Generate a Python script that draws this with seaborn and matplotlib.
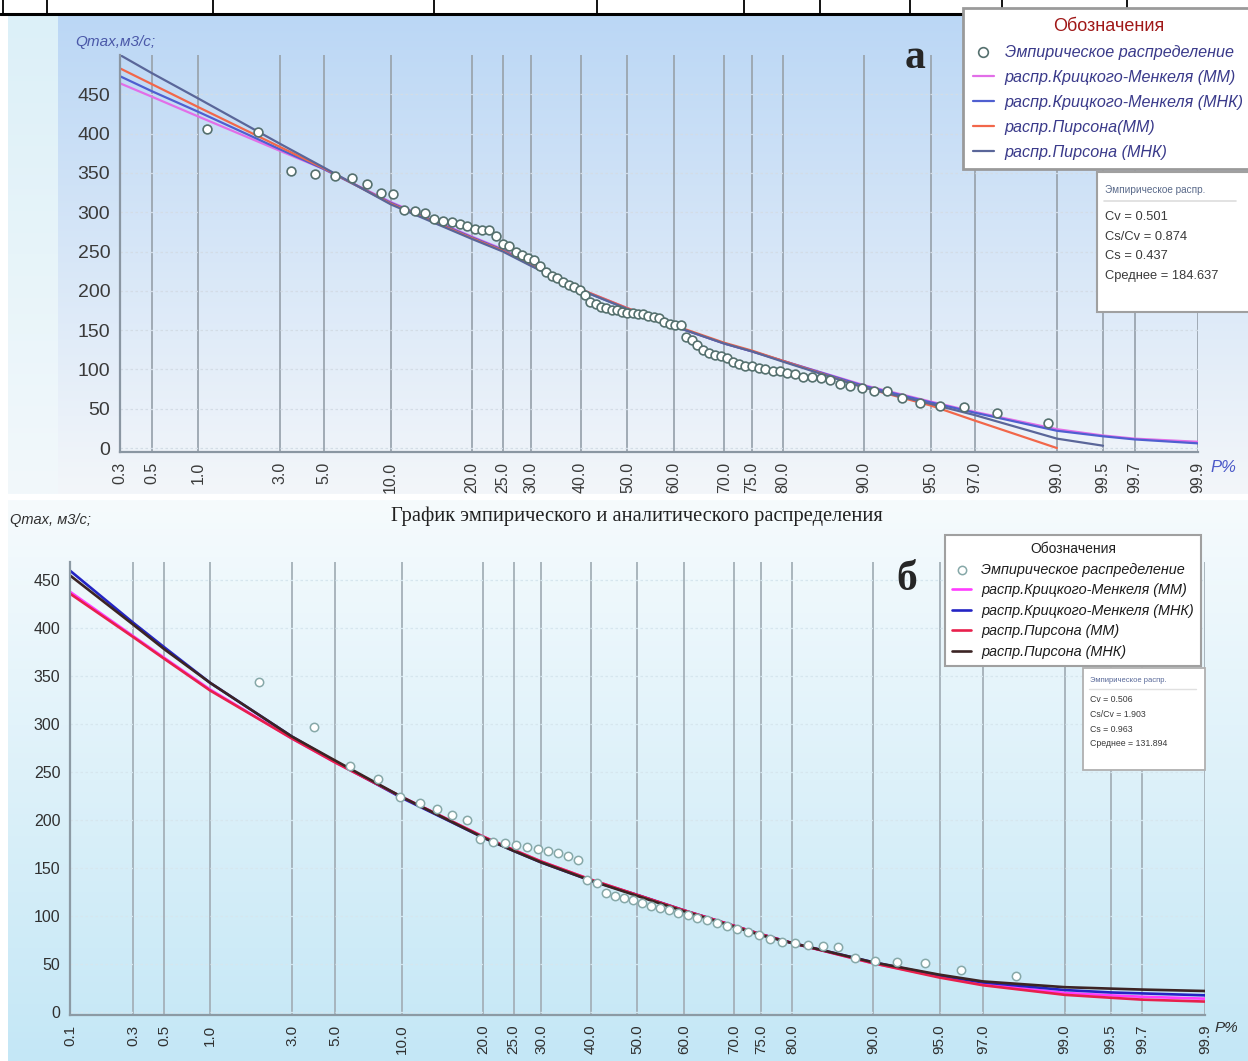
import numpy as np
import pandas as pd
import matplotlib
matplotlib.use("Agg")
import matplotlib.pyplot as plt
import seaborn as sns
from matplotlib.colors import to_rgb
from matplotlib.patches import Rectangle
from statistics import NormalDist

sns.set_style("white")
plt.rcParams['font.family'] = ['Liberation Sans', 'DejaVu Sans']

# ---------------- data ----------------
# panel "а": empirical Qmax, sorted descending (n = 87)
q_emp_a = [406, 402, 353, 348, 346, 344, 336, 324, 323, 303,
           301, 299, 292, 289, 287, 285, 282, 279, 277, 277,
           270, 260, 257, 250, 245, 242, 239, 232, 224, 219,
           216, 211, 208, 205, 201, 195, 186, 183, 180, 178,
           176, 175, 173, 172, 172, 171, 170, 168, 167, 165,
           161, 158, 156, 156, 141, 137, 131, 125, 121, 119,
           117, 114, 110, 107, 105, 104, 102, 100, 98, 98,
           96, 94, 91, 90, 89, 86, 81, 79, 76, 73,
           72, 64, 57, 53, 52, 44, 32]

p_curve_a = [0.3, 0.5, 1, 3, 5, 10, 20, 25, 30, 40, 50, 60, 70, 75, 80,
             90, 95, 97, 99, 99.5, 99.7, 99.9]
km_mm_a = [464, 447, 422, 378, 355, 313, 269, 253, 234, 202, 178, 155, 133,
           123, 111, 80, 59, 46, 24, 16, 12, 8]
km_mnk_a = [473, 454, 428, 380, 355, 312, 268, 252, 233, 201, 177, 155, 133,
            123, 111, 79, 58, 45, 22, 15, 11, 6]
p_pirs_mm_a = [0.3, 0.5, 1, 3, 5, 10, 20, 25, 30, 40, 50, 60, 70, 75, 80,
               90, 95, 97, 99]
pirs_mm_a = [483, 463, 434, 383, 356, 311, 267, 251, 233, 202, 178, 156, 134,
             124, 111, 77, 54, 35, 0]
p_pirs_mnk_a = [0.3, 0.5, 1, 3, 5, 10, 20, 25, 30, 40, 50, 60, 70, 75, 80,
                90, 95, 97, 99, 99.5]
pirs_mnk_a = [500, 477, 445, 387, 357, 310, 266, 250, 232, 201, 177, 155, 133,
              123, 110, 77, 56, 42, 12, 3]

# panel "б": empirical Qmax, sorted descending (n = 50)
q_emp_b = [344, 297, 256, 243, 224, 218, 212, 205, 200, 180,
           177, 176, 174, 172, 170, 168, 166, 163, 158, 138,
           135, 124, 121, 119, 117, 114, 111, 108, 106, 103,
           101, 98, 96, 93, 90, 87, 83, 80, 76, 73,
           72, 70, 69, 68, 56, 53, 52, 51, 44, 38]

p_curve_b = [0.1, 0.3, 0.5, 1, 3, 5, 10, 20, 25, 30, 40, 50, 60, 70, 75, 80,
             90, 95, 97, 99, 99.5, 99.7, 99.9]
km_mm_b = [438, 392, 369, 336, 285, 260, 224, 183, 169, 157, 138, 122, 106,
           90, 81, 72, 51, 37, 29, 20, 17.5, 16, 14]
km_mnk_b = [460, 406, 380, 343, 287, 261, 223, 182, 168, 156, 137, 122, 106,
            90, 81, 72, 52, 38, 31, 23, 20.5, 19.5, 17.5]
pirs_mm_b = [436, 391, 368, 335, 285, 260, 224, 183, 169, 157, 138, 122, 106,
             90, 81, 72, 51, 36, 28, 18, 15, 13, 11]
pirs_mnk_b = [455, 404, 378, 343, 287, 262, 224, 182, 168, 156, 137, 121, 105,
              89, 80, 72, 52, 39, 32, 26, 24.5, 23.5, 22]

ticks_a = [0.3, 0.5, 1, 3, 5, 10, 20, 25, 30, 40, 50, 60, 70, 75, 80, 90, 95,
           97, 99, 99.5, 99.7, 99.9]
ticks_b = [0.1] + ticks_a

labels = ["Эмпирическое распределение", "распр.Крицкого-Менкеля (ММ)",
          "распр.Крицкого-Менкеля (МНК)", "распр.Пирсона(ММ)", "распр.Пирсона (МНК)"]
labels_b = ["Эмпирическое распределение", "распр.Крицкого-Менкеля (ММ)",
            "распр.Крицкого-Менкеля (МНК)", "распр.Пирсона (ММ)", "распр.Пирсона (МНК)"]
stats_a = ["Cv = 0.501", "Cs/Cv = 0.874", "Cs = 0.437", "Среднее = 184.637"]
stats_b = ["Cv = 0.506", "Cs/Cv = 1.903", "Cs = 0.963", "Среднее = 131.894"]

# ---------------- helpers ----------------
nd = NormalDist()


def zp(p):
    # probability paper: position = normal quantile of P%
    return np.array([nd.inv_cdf(v / 100.0) for v in p])


def plot_pos(q):
    # Weibull plotting position m/(n+1)
    n = len(q)
    return [100.0 * m / (n + 1) for m in range(1, n + 1)]


W, H = 1248, 1061
fig = plt.figure(figsize=(W / 100, H / 100), dpi=100)


def px_axes(l, t, r, b, **kw):
    return fig.add_axes([l / W, 1 - b / H, (r - l) / W, (b - t) / H], **kw)


def grad(ax, x0, x1, y0, y1, c_top, c_bot):
    t = np.linspace(0, 1, 256)[:, None]
    img = (np.array(to_rgb(c_top)) * (1 - t) + np.array(to_rgb(c_bot)) * t)[:, None, :]
    ax.imshow(img, extent=[x0, x1, y1, y0], aspect='auto', interpolation='bilinear')


# ---------------- background ----------------
bg = fig.add_axes([0, 0, 1, 1], zorder=0)
grad(bg, 58, W, 15, 494, '#bbd7f5', '#f3f6fa')
grad(bg, 8, 58, 15, 494, '#dcf0f8', '#f2f8fb')
grad(bg, 8, W, 500, H, '#f6fbfd', '#c4e7f6')
bg.set_xlim(0, W)
bg.set_ylim(H, 0)
bg.axis('off')
# table border strip at the very top
bg.plot([0, W], [14, 14], color='black', lw=2.2)
for xv in [3, 47, 213, 434, 597, 744, 820, 910, 1002, 1127]:
    bg.plot([xv, xv], [0, 14], color='black', lw=1.3)


def style_axes(ax, ticks, tick_fs_y, tick_fs_x, vcol, hcol, spcol, tcol):
    ax.set_facecolor('none')
    ax.set_xticks(zp(ticks))
    ax.set_xticklabels([f"{t:.1f}" for t in ticks], rotation=90,
                       fontsize=tick_fs_x, color=tcol)
    ax.set_yticks(range(0, 451, 50))
    ax.set_yticklabels([str(v) for v in range(0, 451, 50)], fontsize=tick_fs_y,
                       color=tcol)
    ax.grid(axis='x', color=vcol, lw=1.3, ls='-')
    ax.grid(axis='y', color=hcol, lw=0.9, ls=(0, (2, 2)))
    for s in ['top', 'right']:
        ax.spines[s].set_visible(False)
    for s in ['left', 'bottom']:
        ax.spines[s].set_color(spcol)
        ax.spines[s].set_linewidth(1.6)
    ax.tick_params(axis='both', direction='out', length=4, width=1, color=spcol, pad=3)
    ax.set_xlabel('')
    ax.set_ylabel('')


# ---------------- panel а ----------------
ax1 = px_axes(120, 55, 1198, 452, zorder=2)
emp_a = pd.DataFrame({'z': zp(plot_pos(q_emp_a)), 'q': q_emp_a})
sns.scatterplot(data=emp_a, x='z', y='q', ax=ax1, s=40, facecolor='white',
                edgecolor='#55706e', linewidth=1.2, zorder=5, label=labels[0])
sns.lineplot(x=zp(p_curve_a), y=km_mm_a, ax=ax1, color='#e26ee8', lw=1.6,
             estimator=None, label=labels[1])
sns.lineplot(x=zp(p_curve_a), y=km_mnk_a, ax=ax1, color='#4f5fd0', lw=1.6,
             estimator=None, label=labels[2])
sns.lineplot(x=zp(p_pirs_mm_a), y=pirs_mm_a, ax=ax1, color='#f2674a', lw=1.6,
             estimator=None, label=labels[3])
sns.lineplot(x=zp(p_pirs_mnk_a), y=pirs_mnk_a, ax=ax1, color='#5a6699', lw=1.6,
             estimator=None, label=labels[4])
ax1.set_xlim(zp([0.3])[0], zp([99.9])[0])
ax1.set_ylim(-5, 500)
style_axes(ax1, ticks_a, 14, 11.5, '#9ba5af', '#d3dce6', '#8a96a2', '#3a3a3a')
leg1 = ax1.legend(loc='upper left', bbox_to_anchor=(963 / W, 1 - 8 / H),
                  bbox_transform=fig.transFigure, borderaxespad=0, frameon=True,
                  fancybox=False, framealpha=1, edgecolor='#9a9a9a',
                  title="Обозначения", title_fontsize=13,
                  prop={'style': 'italic', 'size': 11.6}, handlelength=1.3,
                  handletextpad=0.7, labelspacing=0.62, borderpad=0.6,
                  markerscale=1.1)
leg1.get_frame().set_linewidth(2)
leg1.get_title().set_color('#a01818')
for t in leg1.get_texts():
    t.set_color('#3a3a8a')

# ---------------- panel б ----------------
ax2 = px_axes(70, 562, 1205, 1015, zorder=2)
emp_b = pd.DataFrame({'z': zp(plot_pos(q_emp_b)), 'q': q_emp_b})
sns.scatterplot(data=emp_b, x='z', y='q', ax=ax2, s=36, facecolor='white',
                edgecolor='#86a8a8', linewidth=1.1, zorder=5, label=labels_b[0])
sns.lineplot(x=zp(p_curve_b), y=km_mm_b, ax=ax2, color='#ff3cff', lw=1.9,
             estimator=None, label=labels_b[1])
sns.lineplot(x=zp(p_curve_b), y=km_mnk_b, ax=ax2, color='#2424c4', lw=1.9,
             estimator=None, label=labels_b[2])
sns.lineplot(x=zp(p_curve_b), y=pirs_mm_b, ax=ax2, color='#e8204c', lw=1.9,
             estimator=None, label=labels_b[3])
sns.lineplot(x=zp(p_curve_b), y=pirs_mnk_b, ax=ax2, color='#3c2424', lw=1.9,
             estimator=None, label=labels_b[4])
ax2.set_xlim(zp([0.1])[0], zp([99.9])[0])
ax2.set_ylim(-3, 469)
style_axes(ax2, ticks_b, 11.5, 11, '#a4b0b8', '#d6e6ee', '#8c9aa4', '#303030')
leg2 = ax2.legend(loc='upper left', bbox_to_anchor=(945 / W, 1 - 535 / H),
                  bbox_transform=fig.transFigure, borderaxespad=0, frameon=True,
                  fancybox=False, framealpha=1, edgecolor='#a0a0a0',
                  title="Обозначения", title_fontsize=10,
                  prop={'style': 'italic', 'size': 10.4}, handlelength=1.3,
                  handletextpad=0.7, labelspacing=0.45, borderpad=0.5)
leg2.get_frame().set_linewidth(1.5)
leg2.get_title().set_color('#202020')
for t in leg2.get_texts():
    t.set_color('#1c1c1c')

# ---------------- overlay texts ----------------
ov = fig.add_axes([0, 0, 1, 1], zorder=10)
ov.set_xlim(0, W)
ov.set_ylim(H, 0)
ov.axis('off')
ov.set_facecolor('none')

ov.text(75, 42, "Qmax,м3/с;", fontsize=11, style='italic', color='#4a58a8',
        va='center', ha='left')
ov.text(1210, 468, "P%", fontsize=12, style='italic', color='#4a58c8',
        va='center', ha='left')
ov.text(10, 520, "Qmax, м3/с;", fontsize=10.5, style='italic', color='#303030',
        va='center', ha='left')
ov.text(1215, 1028, "P%", fontsize=11, style='italic', color='#303030',
        va='center', ha='left')
ov.text(637, 516, "График эмпирического и аналитического распределения",
        fontsize=14.8, family=['Liberation Serif', 'DejaVu Serif'],
        color='#202020', ha='center', va='center')
ov.text(915, 58, "а", fontsize=30, fontweight='bold',
        family=['Liberation Serif', 'DejaVu Serif'], ha='center', va='center')
ov.text(907, 580, "б", fontsize=30, fontweight='bold',
        family=['Liberation Serif', 'DejaVu Serif'], ha='center', va='center')

# stats box а
ov.add_patch(Rectangle((1097, 172), 160, 140, facecolor='white',
                       edgecolor='#a0a0a0', lw=1.5))
ov.text(1105, 190, "Эмпирическое распр.", fontsize=7.2, color='#5a6a8a', va='center')
ov.plot([1104, 1236], [201, 201], color='#dddddd', lw=1.2)
for i, s in enumerate(stats_a):
    ov.text(1105, 217 + i * 19.7, s, fontsize=9.3, color='#3a3a3a', va='center')

# stats box б
ov.add_patch(Rectangle((1083, 668), 122, 102, facecolor='white',
                       edgecolor='#b0b0b0', lw=1.3))
ov.text(1090, 681, "Эмпирическое распр.", fontsize=5.5, color='#5a6a9a', va='center')
ov.plot([1089, 1196], [689, 689], color='#e0e0e0', lw=1)
for i, s in enumerate(stats_b):
    ov.text(1090, 700 + i * 14.5, s, fontsize=6.3, color='#3a3a3a', va='center')

fig.savefig("out.png", dpi=100)
